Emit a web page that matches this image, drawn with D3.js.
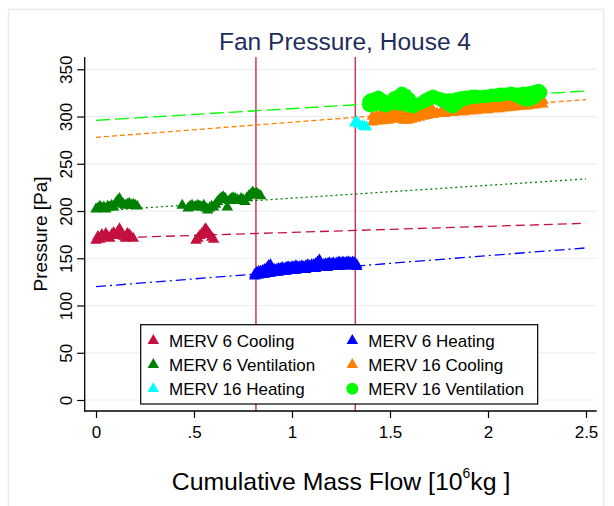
<!DOCTYPE html>
<html><head><meta charset="utf-8">
<script src="https://cdn.jsdelivr.net/npm/d3@7"></script>
<style>body{margin:0;background:#fff}svg{display:block}</style>
</head><body><svg id="c" width="614" height="506"></svg>
<script>
// ---------- DATA ----------
const seriesNames = ["MERV 6 Cooling","MERV 6 Heating","MERV 6 Ventilation","MERV 16 Cooling","MERV 16 Heating","MERV 16 Ventilation"];
const seriesColors = ["#c4103e","#0000ff","#008000","#ff7f00","#00ffff","#00ff00"];
const seriesShapes = ["triangle","triangle","triangle","triangle","triangle","circle"];

const xTicks = [0, 0.5, 1, 1.5, 2, 2.5];
const xTickLabels = ["0", ".5", "1", "1.5", "2", "2.5"];
const yTicks = [0, 50, 100, 150, 200, 250, 300, 350];
const phaseLines = [0.816, 1.323];

// MERV 6 Cooling
const m6CoolX = [0.00,0.01,0.02,0.03,0.04,0.05,0.06,0.07,0.08,0.09,0.10,0.11,0.12,0.13,0.14,0.15,0.16,0.17,0.18,0.19,
                 0.51,0.52,0.53,0.54,0.55,0.555,0.56,0.57,0.58,0.59,0.60];
const m6CoolP = [169,173,170,175,172,176,173,171,175,177,174,178,181,176,173,171,176,175,172,171,
                 169,171,174,176,178,180,181,178,175,172,170];

// MERV 6 Heating (band: upper and lower edge points)
const m6HeatX = [0.81,0.82,0.83,0.84,0.85,0.86,0.87,0.88,0.89,0.90,0.91,0.92,0.93,0.94,0.95,0.96,0.97,0.98,0.99,1.00,
                 1.01,1.02,1.03,1.04,1.05,1.06,1.07,1.08,1.09,1.10,1.11,1.12,1.13,1.14,1.15,1.16,1.17,1.18,1.19,1.20,
                 1.21,1.22,1.23,1.24,1.25,1.26,1.27,1.28,1.29,1.30,1.31,1.32,1.33];
const m6HeatUpper = [133,135,136,136,137,138,139,142,143,139,138,138,139,139,140,139,140,141,140,141,
                     141,142,141,141,142,141,142,143,142,143,143,144,146,148,144,143,144,144,145,144,
                     145,144,145,146,145,146,145,146,146,145,146,145,143];
const m6HeatLower = [131,132,132,133,133,133,134,134,134,135,135,135,135,136,136,136,136,137,137,137,
                     137,137,138,138,138,138,138,139,139,139,139,139,140,140,140,140,140,140,141,141,
                     141,141,141,141,142,142,142,142,142,142,143,143,141];

// MERV 6 Ventilation
const m6VentX = [0.00,0.01,0.02,0.03,0.04,0.05,0.06,0.07,0.08,0.09,0.10,0.11,0.12,0.13,0.14,0.15,0.16,0.17,0.18,0.19,0.20,0.21,
                 0.44,0.47,0.48,0.49,0.50,0.51,0.52,0.53,0.54,0.55,0.56,0.57,0.58,0.59,0.60,0.61,0.62,0.63,0.64,0.65,0.66,0.67,
                 0.68,0.69,0.70,0.71,0.72,0.73,0.74,0.75,0.76,0.77,0.78,0.79,0.80,0.81,0.82,0.83,0.84];
const m6VentP = [202,203,205,203,204,202,205,204,206,204,208,211,213,209,207,206,207,208,206,207,206,205,
                 206,203,205,206,204,205,206,205,204,206,203,201,203,205,204,207,210,212,214,215,213,204,
                 211,213,214,213,212,211,213,212,210,214,216,218,220,218,219,217,216];

// MERV 16 Cooling (band)
const m16CoolX = [1.41,1.43,1.45,1.47,1.49,1.51,1.53,1.54,1.55,1.57,1.59,1.61,1.63,1.65,1.67,1.69,1.71,1.72,1.74,1.76,
                  1.78,1.80,1.82,1.84,1.86,1.88,1.90,1.92,1.94,1.96,1.98,2.00,2.02,2.04,2.06,2.08,2.10,2.12,2.14,2.16,
                  2.18,2.20,2.22,2.24,2.26,2.28];
const m16CoolLower = [294,295,295,296,296,297,298,298,297,296,296,297,298,299,300,301,302,302,303,303,
                      303,304,304,305,305,305,306,306,306,307,307,307,308,308,308,309,309,310,310,311,
                      311,311,312,312,313,313];
const m16CoolUpper = [300,301,302,302,303,304,306,309,304,301,301,302,304,305,306,308,310,305,303,305,
                      306,307,308,308,309,309,310,310,311,311,311,312,312,313,313,313,314,314,315,315,
                      316,316,316,317,317,317];

// MERV 16 Heating
const m16HeatX = [1.32,1.33,1.34,1.36,1.37,1.38];
const m16HeatP = [293,295,292,290,289,289];

// MERV 16 Ventilation (band)
const m16VentX = [1.39,1.40,1.42,1.44,1.46,1.48,1.50,1.52,1.54,1.56,1.58,1.60,1.62,1.64,1.66,1.68,1.70,1.72,1.74,1.76,
                  1.78,1.80,1.82,1.84,1.86,1.88,1.90,1.92,1.94,1.96,1.98,2.00,2.02,2.04,2.06,2.08,2.10,2.12,2.14,2.16,
                  2.18,2.20,2.22,2.24,2.26,2.27];
const m16VentUpper = [316,318,319,321,318,316,316,320,322,325,323,319,314,313,315,318,320,322,320,319,
                      318,318,318,319,320,321,321,322,322,321,321,321,322,322,322,323,324,325,324,324,
                      325,325,326,327,328,325];
const m16VentLower = [312,311,312,313,312,311,313,314,313,313,312,311,310,313,314,316,318,320,319,317,
                      315,312,310,313,316,318,319,320,320,321,322,322,323,323,324,324,324,323,322,320,
                      318,317,318,320,324,326];

// Linear fits: value at x = 0 and at x = 2.5
const fitSeries = [0, 1, 2, 3, 5];
const fitStart = [171, 120, 200, 278, 296];
const fitEnd   = [187, 161, 234, 318, 327];
const fitDash  = ["9,5", "10,4,2,4", "2,3", "5,3", "14,5"];

// ---------- CHART ----------
const svg = d3.select("#c");
const font = "'Liberation Sans', Arial, sans-serif";
const plotL = 84.7, plotR = 596.7, plotT = 57, plotB = 411;

const x = d3.scaleLinear().domain([0, 2.5]).range([96, 586]);
const y = d3.scaleLinear().domain([0, 350]).range([400, 69.3]);

// outer frame
svg.append("rect").attr("x", 8.5).attr("y", 9.5).attr("width", 595).attr("height", 520)
  .attr("fill", "#fff").attr("stroke", "#e6edef").attr("stroke-width", 1.5);

// gridlines
svg.append("g").selectAll("line").data(yTicks).join("line")
  .attr("x1", plotL).attr("x2", plotR)
  .attr("y1", d => y(d)).attr("y2", d => y(d))
  .attr("stroke", "#e8eff0").attr("stroke-width", 1.2);

// vertical phase lines
svg.append("g").selectAll("line").data(phaseLines).join("line")
  .attr("x1", d => x(d)).attr("x2", d => x(d))
  .attr("y1", plotT).attr("y2", plotB)
  .attr("stroke", "#c83a5c").attr("stroke-width", 1.5);

// fit lines
const line = d3.line().x(d => x(d[0])).y(d => y(d[1]));
fitSeries.forEach((s, i) => {
  svg.append("path").datum([[0, fitStart[i]], [2.5, fitEnd[i]]])
    .attr("d", line).attr("fill", "none")
    .attr("stroke", seriesColors[s]).attr("stroke-width", 1.3)
    .attr("stroke-dasharray", fitDash[i]);
});

// markers
const triSide = 11.5, triH = triSide * Math.sqrt(3) / 2;
const triPath = `M0,${-triH*2/3}L${triSide/2},${triH/3}L${-triSide/2},${triH/3}Z`;
function drawPoints(xs, ps, idx) {
  const pts = xs.map((v, i) => [v, ps[i]]);
  const g = svg.append("g");
  if (seriesShapes[idx] === "circle") {
    g.selectAll("circle").data(pts).join("circle")
      .attr("cx", d => x(d[0])).attr("cy", d => y(d[1])).attr("r", 6.3)
      .attr("fill", seriesColors[idx]);
  } else {
    g.selectAll("path").data(pts).join("path")
      .attr("d", triPath)
      .attr("transform", d => `translate(${x(d[0])},${y(d[1])})`)
      .attr("fill", seriesColors[idx]);
  }
}
drawPoints(m6CoolX, m6CoolP, 0);
drawPoints(m6HeatX, m6HeatLower, 1);
drawPoints(m6HeatX, m6HeatUpper, 1);
drawPoints(m6VentX, m6VentP, 2);
drawPoints(m16CoolX, m16CoolLower, 3);
drawPoints(m16CoolX, m16CoolUpper, 3);
drawPoints(m16HeatX, m16HeatP, 4);
drawPoints(m16VentX, m16VentLower, 5);
drawPoints(m16VentX, m16VentUpper, 5);

// axes
const xAxis = svg.append("g").attr("transform", `translate(0,${plotB})`)
  .call(d3.axisBottom(x).tickValues(xTicks).tickFormat((d, i) => xTickLabels[i]).tickSize(7));
xAxis.select(".domain").remove();
xAxis.selectAll(".tick line").attr("stroke", "#000").attr("stroke-width", 1.2);
xAxis.selectAll(".tick text").attr("y", 27).attr("dy", 0)
  .attr("font-family", font).attr("font-size", 17).attr("fill", "#000");
svg.append("line").attr("x1", plotL - 0.6).attr("x2", plotR).attr("y1", plotB).attr("y2", plotB)
  .attr("stroke", "#000").attr("stroke-width", 1.3);

const yAxis = svg.append("g").attr("transform", `translate(${plotL},0)`)
  .call(d3.axisLeft(y).tickValues(yTicks).tickSize(7.5));
yAxis.select(".domain").remove();
yAxis.selectAll(".tick line").attr("stroke", "#000").attr("stroke-width", 1.2);
yAxis.selectAll(".tick text").attr("transform", "rotate(-90)").attr("x", 0).attr("y", -13.2)
  .attr("dy", 0).attr("text-anchor", "middle")
  .attr("font-family", font).attr("font-size", 17).attr("fill", "#000");
svg.append("line").attr("x1", plotL).attr("x2", plotL).attr("y1", plotT).attr("y2", plotB + 0.6)
  .attr("stroke", "#000").attr("stroke-width", 1.3);

// title
svg.append("text").attr("x", 345).attr("y", 50).attr("text-anchor", "middle")
  .attr("font-family", font).attr("font-size", 24.5).attr("fill", "#1e2c5e")
  .text("Fan Pressure, House 4");

// y title
svg.append("text").attr("transform", "translate(46.5,234) rotate(-90)").attr("text-anchor", "middle")
  .attr("font-family", font).attr("font-size", 19).attr("fill", "#000")
  .text("Pressure [Pa]");

// x title with superscript
const xt = svg.append("text").attr("x", 341).attr("y", 489.5).attr("text-anchor", "middle")
  .attr("font-family", font).attr("font-size", 24.8).attr("fill", "#000");
xt.append("tspan").text("Cumulative Mass Flow [10");
xt.append("tspan").attr("font-size", 14).attr("dy", -12).text("6");
xt.append("tspan").attr("dy", 12).text("kg ]");

// legend
const lg = svg.append("g");
lg.append("rect").attr("x", 140.7).attr("y", 324.7).attr("width", 397).attr("height", 79.3)
  .attr("fill", "#fff").attr("stroke", "#000").attr("stroke-width", 1.2);
const colMarker = [153.3, 352.3], colText = [169, 368.3], rowY = [340.7, 364.6, 388.8];
seriesNames.forEach((name, i) => {
  const c = i % 2, r = Math.floor(i / 2);
  if (seriesShapes[i] === "circle") {
    lg.append("circle").attr("cx", colMarker[c]).attr("cy", rowY[r]).attr("r", 6)
      .attr("fill", seriesColors[i]);
  } else {
    lg.append("path").attr("d", triPath)
      .attr("transform", `translate(${colMarker[c]},${rowY[r]})`).attr("fill", seriesColors[i]);
  }
  lg.append("text").attr("x", colText[c]).attr("y", rowY[r] + 6.3)
    .attr("font-family", font).attr("font-size", 17).attr("fill", "#000").text(name);
});
</script>
</body></html>
